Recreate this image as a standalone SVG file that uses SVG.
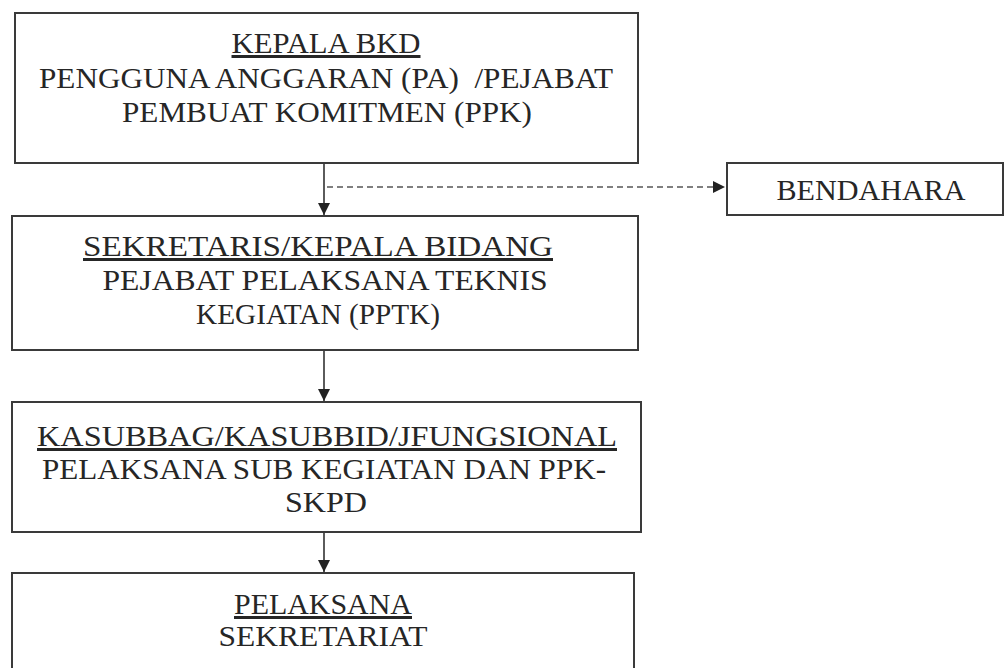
<svg xmlns="http://www.w3.org/2000/svg" width="1004" height="668" viewBox="0 0 1004 668">
<defs>
<style>
.box{fill:#fff;stroke:#3a3a3a;stroke-width:2}
.t{font-family:"Liberation Serif","Times New Roman",serif;font-size:30px;fill:#262626;text-anchor:middle}
.u{text-decoration:underline}
.con{stroke:#333;stroke-width:1.6;fill:none}
.dash{stroke:#555;stroke-width:1.4;fill:none;stroke-dasharray:6 4}
</style>
<marker id="ah" viewBox="0 0 10 10" refX="10" refY="5" markerWidth="12" markerHeight="12" markerUnits="userSpaceOnUse" orient="auto">
<path d="M0,0 L10,5 L0,10 Z" fill="#222"/>
</marker>
</defs>
<rect width="1004" height="668" fill="#fff"/>
<g id="connectors">
<line class="con" x1="324" y1="164" x2="324" y2="215" marker-end="url(#ah)"/>
<line class="dash" x1="327" y1="187" x2="725" y2="187" marker-end="url(#ah)"/>
<line class="con" x1="324" y1="350" x2="324" y2="401" marker-end="url(#ah)"/>
<line class="con" x1="324" y1="532" x2="324" y2="572" marker-end="url(#ah)"/>
</g>
<g id="kepala-bkd">
<rect class="box" x="15" y="13" width="623" height="150"/>
<text class="t u" x="326" y="53" textLength="189" lengthAdjust="spacingAndGlyphs">KEPALA BKD</text>
<text class="t" x="326" y="88" textLength="574" lengthAdjust="spacingAndGlyphs">PENGGUNA ANGGARAN (PA)&#160; /PEJABAT</text>
<text class="t" x="327" y="122" textLength="410" lengthAdjust="spacingAndGlyphs">PEMBUAT KOMITMEN (PPK)</text>
</g>
<g id="bendahara">
<rect class="box" x="727" y="163" width="276" height="52"/>
<text class="t" x="871" y="200" textLength="189" lengthAdjust="spacingAndGlyphs">BENDAHARA</text>
</g>
<g id="sekretaris">
<rect class="box" x="12" y="216" width="626" height="134"/>
<text class="t u" x="318" y="256" textLength="470" lengthAdjust="spacingAndGlyphs">SEKRETARIS/KEPALA BIDANG</text>
<text class="t" x="325" y="290" textLength="445" lengthAdjust="spacingAndGlyphs">PEJABAT PELAKSANA TEKNIS</text>
<text class="t" x="318" y="324" textLength="244" lengthAdjust="spacingAndGlyphs">KEGIATAN (PPTK)</text>
</g>
<g id="kasubbag">
<rect class="box" x="12" y="402" width="629" height="130"/>
<text class="t u" x="327" y="446" textLength="580" lengthAdjust="spacingAndGlyphs">KASUBBAG/KASUBBID/JFUNGSIONAL</text>
<text class="t" x="324" y="479" textLength="564" lengthAdjust="spacingAndGlyphs">PELAKSANA SUB KEGIATAN DAN PPK-</text>
<text class="t" x="326" y="512" textLength="82" lengthAdjust="spacingAndGlyphs">SKPD</text>
</g>
<g id="pelaksana">
<rect class="box" x="12" y="573" width="622" height="110"/>
<text class="t u" x="323" y="614" textLength="178" lengthAdjust="spacingAndGlyphs">PELAKSANA</text>
<text class="t" x="323" y="646" textLength="209" lengthAdjust="spacingAndGlyphs">SEKRETARIAT</text>
</g>
</svg>
